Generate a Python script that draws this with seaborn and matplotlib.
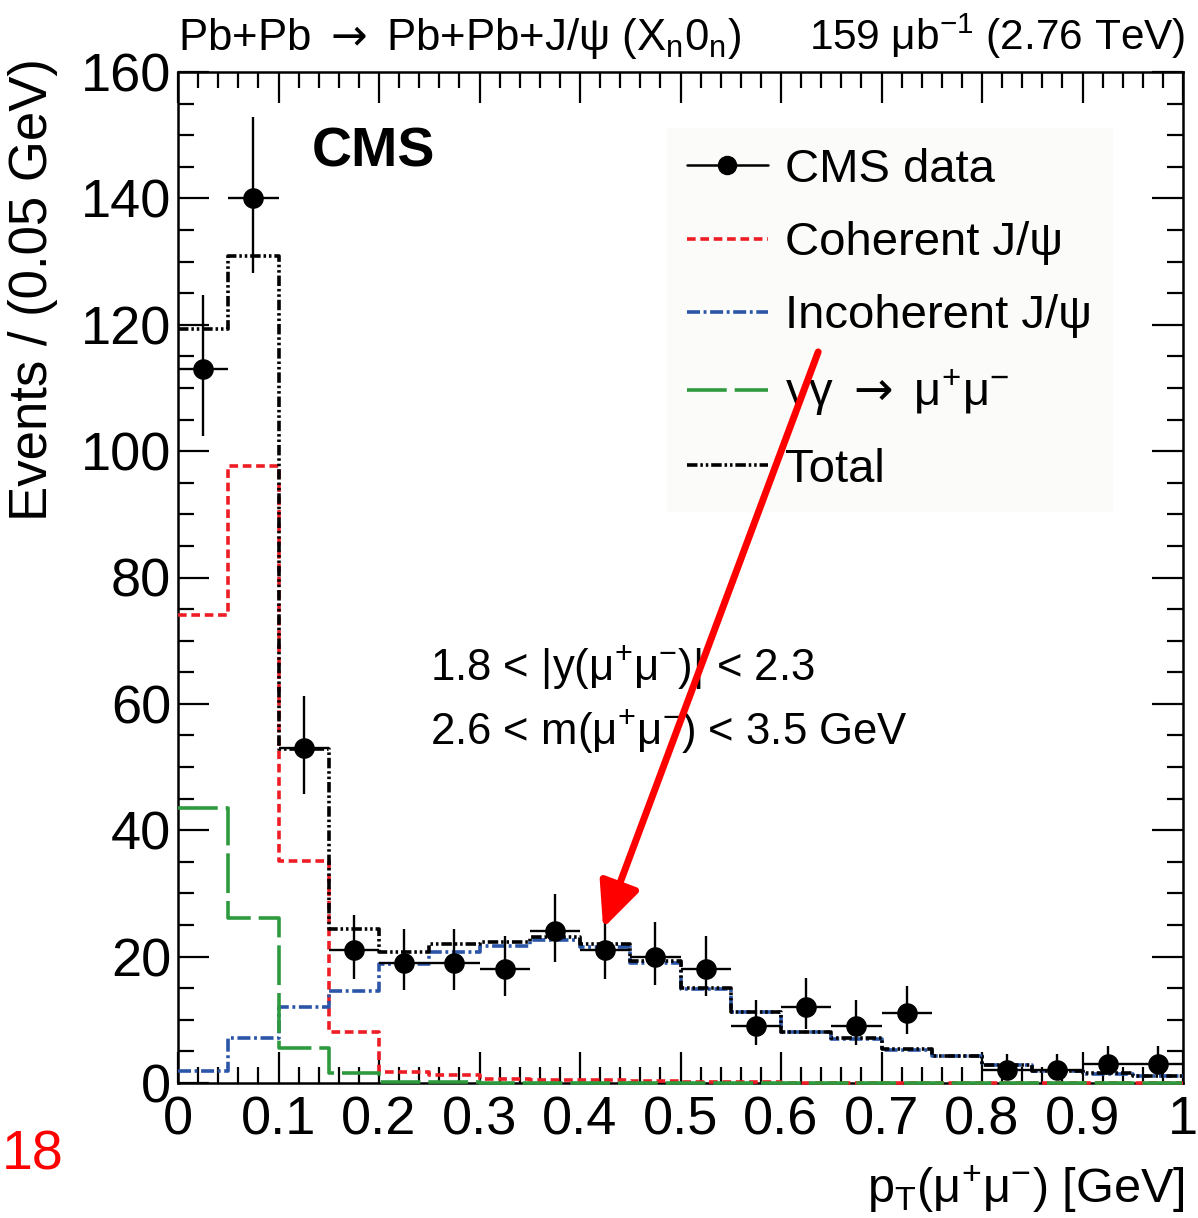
import numpy as np
import pandas as pd
import matplotlib
matplotlib.use("Agg")
import matplotlib.pyplot as plt
from matplotlib.lines import Line2D
from matplotlib.ticker import MultipleLocator
import seaborn as sns

# ---- binning: pT(mu+mu-) in 0.05 GeV bins ----
pt_edges = [0.00, 0.05, 0.10, 0.15, 0.20, 0.25, 0.30, 0.35, 0.40, 0.45, 0.50,
            0.55, 0.60, 0.65, 0.70, 0.75, 0.80, 0.85, 0.90, 0.95, 1.00]

# ---- template yields per bin ----
coherent = [74.0, 97.6, 35.1, 8.1, 1.8, 1.2, 0.6, 0.5, 0.4, 0.25,
            0.15, 0.1, 0.05, 0.05, 0.03, 0.02, 0.02, 0.01, 0.01, 0.01]
incoherent = [1.9, 7.2, 12.1, 14.6, 18.8, 20.7, 21.7, 22.6, 21.6, 19.0,
              14.9, 11.2, 8.0, 7.0, 5.3, 4.3, 2.9, 1.9, 1.5, 1.1]
gamma_gamma = [43.5, 26.1, 5.6, 1.6, 0.2, 0.1, 0.05, 0.03, 0.02, 0.01,
               0.0, 0.0, 0.0, 0.0, 0.0, 0.0, 0.0, 0.0, 0.0, 0.0]

# ---- measured points (bin centres, counts, Poisson intervals) ----
data_pt = [0.025, 0.075, 0.125, 0.175, 0.225, 0.275, 0.325, 0.375, 0.425, 0.475,
           0.525, 0.575, 0.625, 0.675, 0.725, 0.825, 0.875, 0.925, 0.975]
data_counts = [113, 140, 53, 21, 19, 19, 18, 24, 21, 20,
               18, 9, 12, 9, 11, 2, 2, 3, 3]
err_low = [10.61, 11.81, 7.26, 4.54, 4.32, 4.32, 4.20, 4.86, 4.54, 4.44,
           4.20, 2.94, 3.41, 2.94, 3.26, 1.29, 1.29, 1.63, 1.63]
err_high = [11.66, 12.86, 8.32, 5.65, 5.40, 5.40, 5.29, 5.96, 5.65, 5.51,
            5.29, 4.11, 4.57, 4.11, 4.42, 2.64, 2.64, 2.92, 2.92]

half_bin = 0.025

RED = "#ee1c24"
BLUE = "#2b56a8"
GREEN = "#2e9a3e"

sns.set_theme(style="ticks")
plt.rcParams["font.family"] = ["Liberation Sans", "DejaVu Sans"]
plt.rcParams["mathtext.fontset"] = "custom"
plt.rcParams["mathtext.rm"] = "Liberation Sans"
plt.rcParams["mathtext.it"] = "Liberation Sans:italic"
plt.rcParams["mathtext.bf"] = "Liberation Sans:bold"
plt.rcParams["mathtext.sf"] = "DejaVu Sans"
plt.rcParams["mathtext.fallback"] = "stixsans"
for key in ["text.color", "axes.labelcolor", "xtick.color", "ytick.color",
            "axes.edgecolor"]:
    plt.rcParams[key] = "black"

W, H = 1198, 1218
fig = plt.figure(figsize=(W / 100, H / 100), dpi=100)
ax = fig.add_axes([178 / W, 1 - 1083 / H, (1183 - 178) / W, (1083 - 72) / H])


def step_frame(values):
    vals = list(values)
    return pd.DataFrame({"pt": pt_edges, "events": vals + [vals[-1]]})


total = [c + i + g for c, i, g in zip(coherent, incoherent, gamma_gamma)]

lw = 2.6
LS_COH = (0, (2.4, 1.3))
LS_INC = (0, (3.6, 1.0, 0.8, 1.0))
LS_GG = (0, (11.0, 2.2))
LS_TOT = (0, (2.9, 0.8, 0.7, 0.8, 0.7, 0.8))

styles = [
    (coherent, RED, LS_COH),
    (incoherent, BLUE, LS_INC),
    (gamma_gamma, GREEN, LS_GG),
    (total, "black", LS_TOT),
]
for vals, col, ls in styles:
    sns.lineplot(data=step_frame(vals), x="pt", y="events", ax=ax,
                 drawstyle="steps-post", color=col, linestyle=ls, lw=lw,
                 estimator=None, sort=False, zorder=3, clip_on=False)

# data points with Poisson error bars
ax.errorbar(data_pt, data_counts, yerr=[err_low, err_high], xerr=half_bin,
            fmt="none", ecolor="black", elinewidth=1.7, capsize=0, zorder=5)
sns.scatterplot(x=data_pt, y=data_counts, ax=ax, color="black", s=220,
                edgecolor="black", linewidth=0, zorder=6)

ax.set_xlim(0, 1)
ax.set_ylim(0, 160)
ax.set_xlabel("")
ax.set_ylabel("")

for sp in ax.spines.values():
    sp.set_visible(True)
    sp.set_linewidth(1.8)
    sp.set_color("black")

ax.xaxis.set_minor_locator(MultipleLocator(0.02))
ax.yaxis.set_minor_locator(MultipleLocator(5))
ax.tick_params(which="both", direction="in", top=True, right=True,
               color="black", width=1.6)
ax.tick_params(which="major", length=22)
ax.tick_params(which="minor", length=11.5)
ax.tick_params(axis="x", which="major", labelsize=39, pad=9)
ax.tick_params(axis="y", which="major", labelsize=39, pad=5)
ax.set_xticks([0, 0.1, 0.2, 0.3, 0.4, 0.5, 0.6, 0.7, 0.8, 0.9, 1.0])
ax.set_xticklabels(["0", "0.1", "0.2", "0.3", "0.4", "0.5", "0.6", "0.7",
                    "0.8", "0.9", "1"])
ax.set_yticks([0, 20, 40, 60, 80, 100, 120, 140, 160])
ax.set_yticklabels(["0", "20", "40", "60", "80", "100", "120", "140", "160"])

# axis titles
fig.text(1185 / W, 1 - 1203 / H, r"p$_{\mathrm{T}}$(μ$^{+}$μ$^{-}$) [GeV]",
         ha="right", va="baseline", fontsize=35)
fig.text(33 / W, 1 - 58 / H, "Events / (0.05 GeV)", rotation=90,
         ha="center", va="top", fontsize=38)

# header
fig.text(178 / W, 1 - 50 / H,
         r"Pb+Pb $\mathsf{\rightarrow}$ Pb+Pb+J/ψ (X$_{\mathrm{n}}$0$_{\mathrm{n}}$)",
         ha="left", va="baseline", fontsize=31.5)
fig.text(1185 / W, 1 - 50 / H, r"159 μb$^{-1}$ (2.76 TeV)",
         ha="right", va="baseline", fontsize=30.5)

ax.text(0.1333, 0.907, "CMS", transform=ax.transAxes, ha="left",
        va="baseline", fontsize=40, fontweight="bold")

ax.text(0.251, 0.3986, r"1.8 < |y(μ$^{+}$μ$^{-}$)| < 2.3",
        transform=ax.transAxes, ha="left", va="baseline", fontsize=31.5)
ax.text(0.251, 0.3353, r"2.6 < m(μ$^{+}$μ$^{-}$) < 3.5 GeV",
        transform=ax.transAxes, ha="left", va="baseline", fontsize=31.5)

# legend
handles = [
    Line2D([], [], color="black", lw=1.8, marker="o", ms=13),
    Line2D([], [], color=RED, lw=lw, linestyle=LS_COH),
    Line2D([], [], color=BLUE, lw=lw, linestyle=LS_INC),
    Line2D([], [], color=GREEN, lw=lw, linestyle=LS_GG),
    Line2D([], [], color="black", lw=lw, linestyle=LS_TOT),
]
labels = ["CMS data", "Coherent J/ψ", "Incoherent J/ψ",
          r"γγ $\mathsf{\rightarrow}$ μ$^{+}$μ$^{-}$", "Total"]
leg = ax.legend(handles, labels, loc="upper left",
                bbox_to_anchor=(0.4866, 0.9446), borderaxespad=0,
                fontsize=34, frameon=True, fancybox=False,
                facecolor="#fbfbf9", edgecolor="#fbfbf9", framealpha=1,
                borderpad=0.42, handlelength=1.72, handletextpad=0.36,
                labelspacing=0.62)
leg.set_zorder(1)

# highlight arrow
ax.annotate("", xy=(0.423, 24.5), xytext=(0.637, 115.7),
            xycoords="data", textcoords="data", annotation_clip=False,
            arrowprops=dict(arrowstyle="-|>,head_length=1.1,head_width=0.5",
                            mutation_scale=25, color="#ff0000", lw=5,
                            shrinkA=0, shrinkB=0),
            zorder=8)

fig.text(2 / W, 1 - 1155 / H, "18", color="#ff0000", fontsize=40,
         ha="left", va="center")

fig.savefig("out.png", dpi=100)
